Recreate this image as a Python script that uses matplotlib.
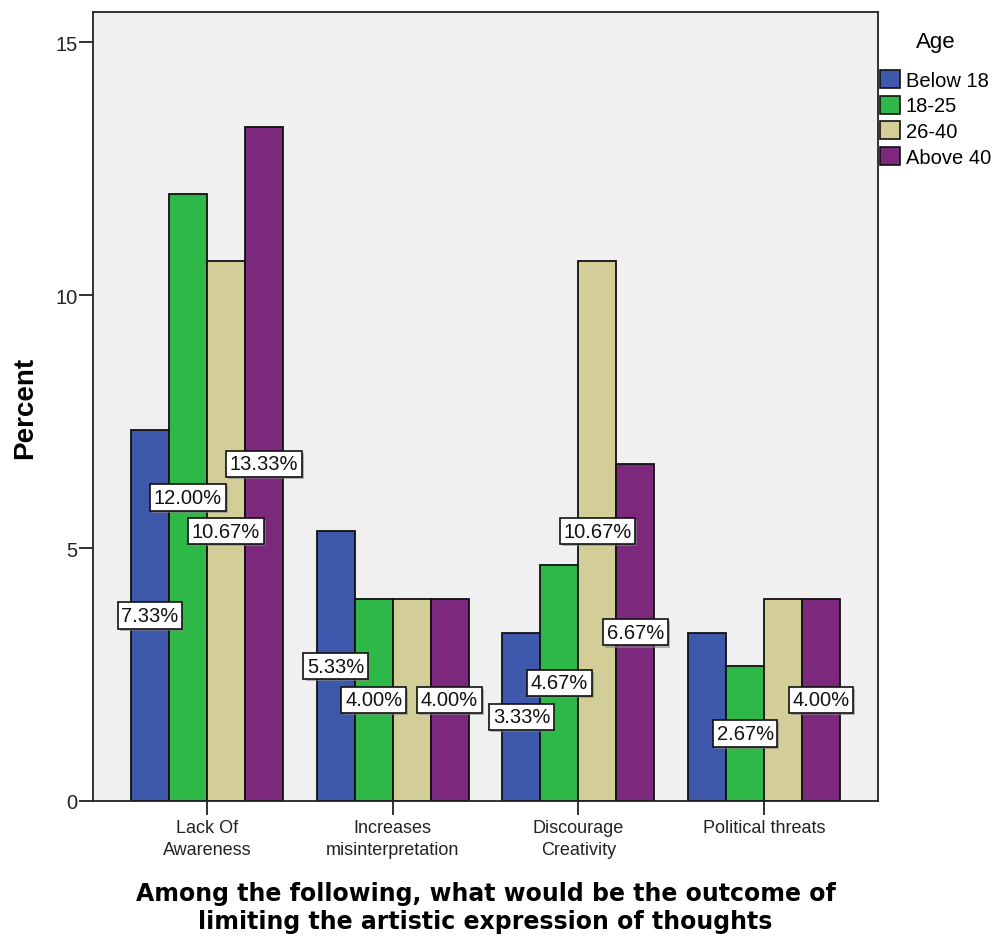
import matplotlib
matplotlib.use("Agg")
from matplotlib import pyplot as plt
from matplotlib.patches import Patch
import matplotlib.patheffects as pe
import numpy as np

# data
categories = ["Lack Of\nAwareness", "Increases\nmisinterpretation", "Discourage\nCreativity", "Political threats"]
age_groups = ["Below 18", "18-25", "26-40", "Above 40"]
below18 = [7.33, 5.33, 3.33, 3.33]
age18_25 = [12.00, 4.00, 4.67, 2.67]
age26_40 = [10.67, 4.00, 10.67, 4.00]
above40 = [13.33, 4.00, 6.67, 4.00]
# which value labels are visible in the original (some are suppressed by overlap)
show_below18 = [True, True, True, False]
show_18_25 = [True, True, True, True]
show_26_40 = [True, False, True, False]
show_above40 = [True, True, True, True]

colors = ["#3E58AC", "#2EB848", "#D3CE97", "#7C287D"]
series = [below18, age18_25, age26_40, above40]
shows = [show_below18, show_18_25, show_26_40, show_above40]

fig = plt.figure(figsize=(9.95, 9.37), dpi=100)
ax = fig.add_axes([0.0935, 0.1441, 0.7889, 0.842])
ax.set_facecolor("#F0F0F0")

x = np.arange(len(categories))
w = 38 / 186
for i, (vals, col, shw) in enumerate(zip(series, colors, shows)):
    pos = x + (i - 1.5) * w
    ax.bar(pos, vals, w, color=col, edgecolor="#111111", linewidth=1.3, zorder=2)
    for px, v, s in zip(pos, vals, shw):
        if s:
            t = ax.text(px, v / 2, "%.2f%%" % v, ha="center", va="center", fontsize=14.5,
                        family="Liberation Sans", color="#111111", zorder=4,
                        bbox=dict(boxstyle="square,pad=0.18", facecolor="white", edgecolor="#111111", linewidth=1.2))
            t.get_bbox_patch().set_path_effects([
                pe.SimplePatchShadow(offset=(1.5, -1.5), shadow_rgbFace="#888888", alpha=0.6), pe.Normal()])

ax.set_xlim(-0.613, 3.613)
ax.set_ylim(0, 15.6)
ax.set_yticks([0, 5, 10, 15])
ax.set_xticks(x)
ax.set_xticklabels(categories, fontsize=13, family="Liberation Sans", linespacing=1.4)
ax.tick_params(axis="y", length=10, width=1.3, labelsize=14.5, pad=1, colors="#222222")
ax.tick_params(axis="x", length=10, width=1.3, pad=3, colors="#222222")
for lab in ax.get_yticklabels():
    lab.set_family("Liberation Sans")
for sp in ax.spines.values():
    sp.set_linewidth(1.3)
    sp.set_color("#222222")

ax.set_ylabel("Percent", fontsize=20, fontweight="bold", family="Liberation Sans")
ax.yaxis.set_label_coords(-0.070, 0.5)
ax.set_xlabel("Among the following, what would be the outcome of\nlimiting the artistic expression of thoughts",
              fontsize=17, fontweight="bold", family="DejaVu Sans", linespacing=1.2)
ax.xaxis.set_label_coords(0.5, -0.102)

handles = [Patch(facecolor=c, edgecolor="#111111", linewidth=1.2) for c in colors]
leg = ax.legend(handles, age_groups, title="Age", loc="upper left", bbox_to_anchor=(1.003, 0.976),
                frameon=False, handlelength=1.0, handleheight=1.0,
                handletextpad=0.25, labelspacing=0.28, borderpad=0, borderaxespad=0,
                prop={"family": "Liberation Sans", "size": 14.5})
leg.get_title().set_family("Liberation Sans")
leg.get_title().set_fontsize(16)
leg._legend_box.sep = 13

fig.savefig("out.png", dpi=100, facecolor="white")
